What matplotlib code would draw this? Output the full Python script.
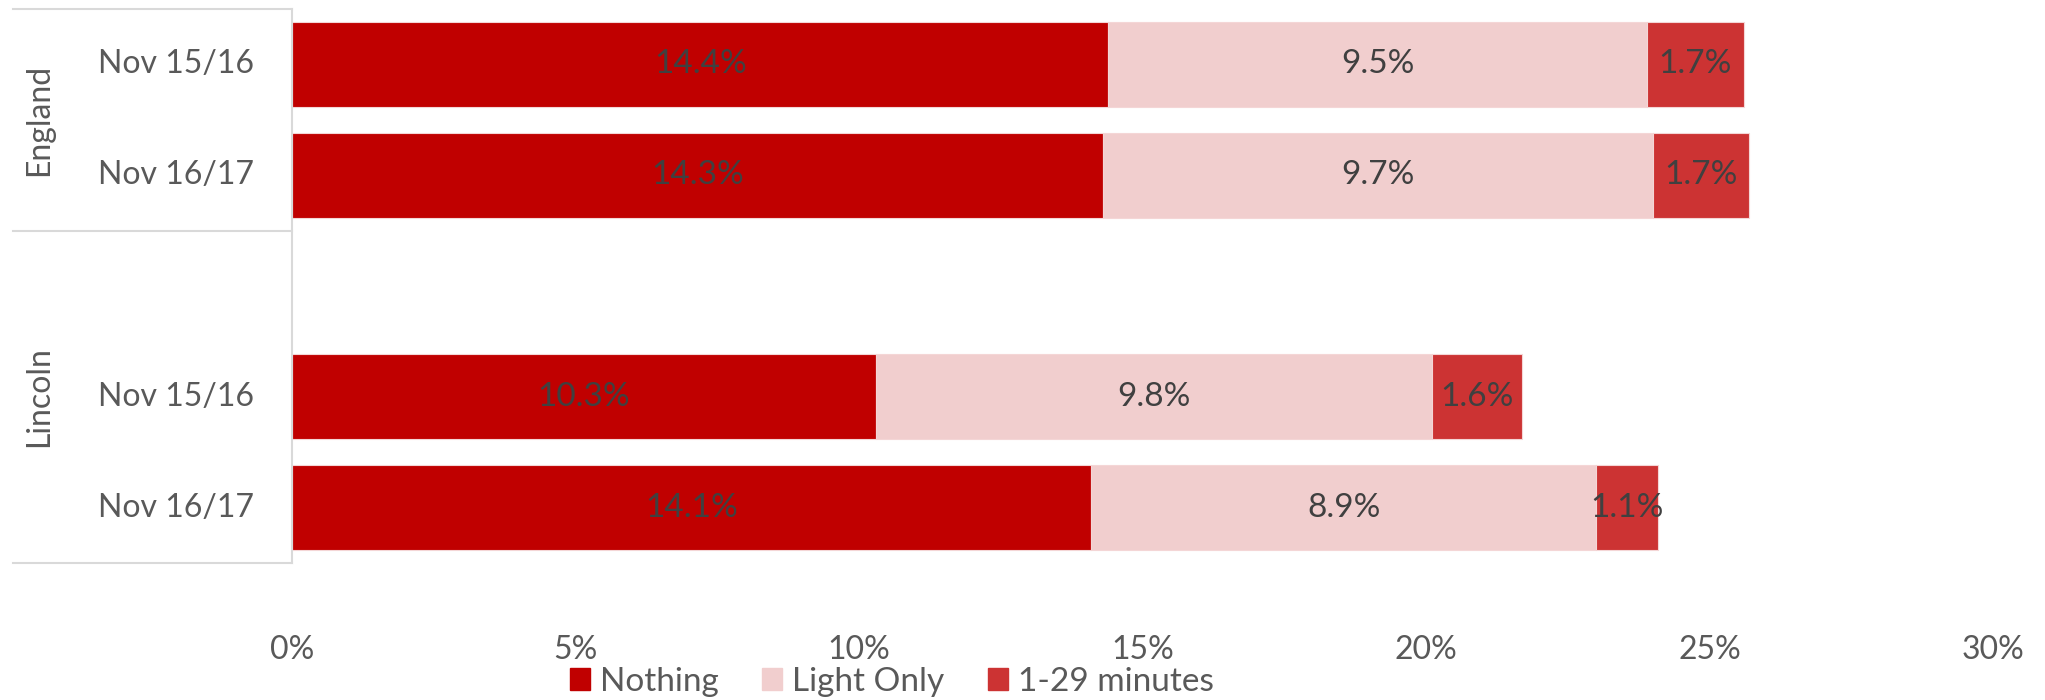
import matplotlib.pyplot as plt
from matplotlib.lines import Line2D
from matplotlib.patches import Patch

plt.rcParams['font.family'] = ['Lato', 'DejaVu Sans']

# rows top to bottom; the empty row spaces the two groups
groups = ["England", "Lincoln"]
rows = ["Nov 15/16", "Nov 16/17", "", "Nov 15/16", "Nov 16/17"]
nothing = [14.4, 14.3, None, 10.3, 14.1]
light_only = [9.5, 9.7, None, 9.8, 8.9]
short_wait = [1.7, 1.7, None, 1.6, 1.1]

series = ["Nothing", "Light Only", "1-29 minutes"]
colors = ["#C00000", "#F1CECE", "#CC3333"]
text_col = "#404040"
grey = "#595959"

W, H = 2045, 700
fig = plt.figure(figsize=(W / 100, H / 100), dpi=100)
x0, x1, y0, y1 = 292, 1993, 9, 563
ax = fig.add_axes([x0 / W, 1 - y1 / H, (x1 - x0) / W, (y1 - y0) / H])

for i, vals in enumerate(zip(nothing, light_only, short_wait)):
    if vals[0] is None:
        continue
    left = 0
    for v, c in zip(vals, colors):
        ax.barh(i, v, left=left, height=0.765, color=c, edgecolor="#F4D6D6", linewidth=0.8)
        ax.text(left + v / 2, i, f"{v}%", ha="center", va="center",
                fontsize=24, color=text_col)
        left += v

ax.set_xlim(0, 30)
ax.set_ylim(4.5, -0.5)
ax.set_xticks(range(0, 31, 5))
ax.set_xticklabels([f"{t}%" for t in range(0, 31, 5)])
ax.tick_params(axis="x", length=0, pad=52, labelsize=23, labelcolor=grey)
ax.set_yticks([])
for s in ["top", "right", "bottom"]:
    ax.spines[s].set_visible(False)
ax.spines["left"].set_color("#D9D9D9")
ax.spines["left"].set_linewidth(1.5)

# two-level category axis drawn left of the plot
def fx(px):
    return (px - x0) / (x1 - x0)

tr = ax.get_yaxis_transform()
for yb in [-0.5, 1.5, 4.5]:
    ax.add_line(Line2D([fx(13), 0], [yb, yb], color="#D9D9D9", lw=1.5,
                       transform=tr, clip_on=False))

for i, r in enumerate(rows):
    if r:
        ax.text(fx(176), i, r, transform=tr, ha="center", va="center",
                fontsize=23, color=grey)
ax.text(fx(39), 0.5, groups[0], transform=tr, rotation=90, ha="center",
        va="center", fontsize=23, color=grey)
ax.text(fx(39), 3.0, groups[1], transform=tr, rotation=90, ha="center",
        va="center", fontsize=23, color=grey)

handles = [Patch(facecolor=c, edgecolor=c) for c in colors]
fig.legend(handles, series, loc="center", bbox_to_anchor=(0.436, 0.026),
           ncol=3, frameon=False, fontsize=24, labelcolor=grey,
           handlelength=0.6, handleheight=0.6, handletextpad=0.3,
           columnspacing=1.3)

fig.savefig("out.png", dpi=100)
